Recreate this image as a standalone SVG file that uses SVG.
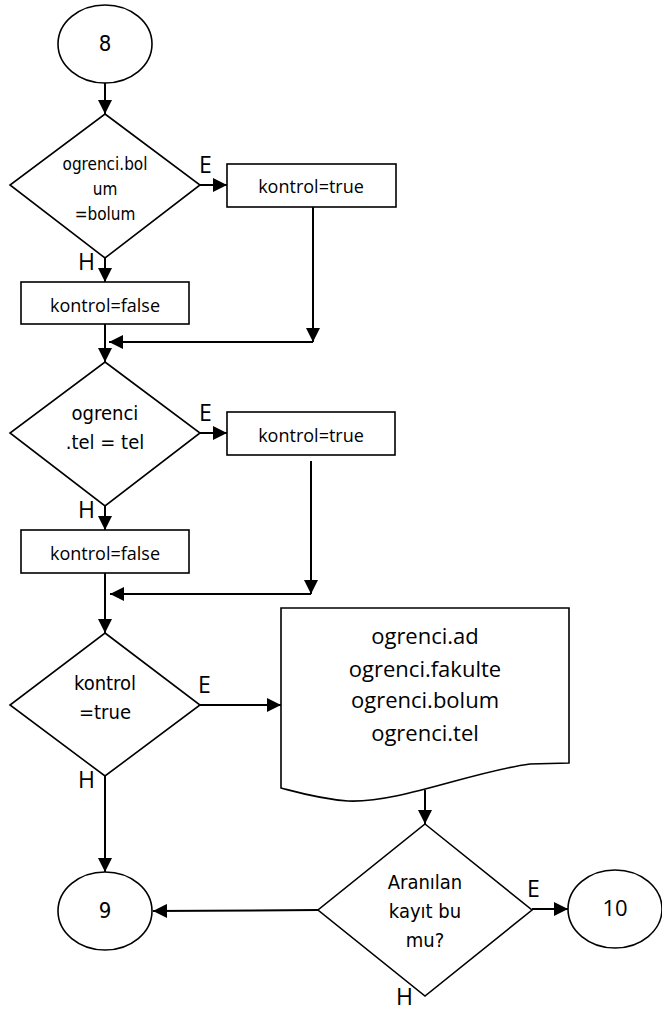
<svg xmlns="http://www.w3.org/2000/svg" width="662" height="1012" viewBox="0 0 662 1012">
<style>
  .shape { fill: #ffffff; stroke: #000000; stroke-width: 1.6; }
  .conn { fill: none; stroke: #000000; stroke-width: 2; }
  .dt { font-family: "DejaVu Sans Condensed", "DejaVu Sans", sans-serif; font-stretch: condensed; fill: #000; text-anchor: middle; }
  .bt { font-family: "Open Sans", "Liberation Sans", sans-serif; fill: #000; text-anchor: middle; }
  .lbl { font-family: "Open Sans", "Liberation Sans", sans-serif; font-size: 23px; fill: #000; }
</style>
<defs>
  <marker id="arr" markerUnits="userSpaceOnUse" markerWidth="14" markerHeight="14" refX="14" refY="7" orient="auto">
    <path d="M0,0 L14,7 L0,14 Z" fill="#000"/>
  </marker>
</defs>

<g id="connectors">
  <line class="conn" x1="105" y1="83" x2="105" y2="114" marker-end="url(#arr)"/>
  <line class="conn" x1="200" y1="185" x2="227" y2="185" marker-end="url(#arr)"/>
  <line class="conn" x1="105" y1="258" x2="105" y2="282" marker-end="url(#arr)"/>
  <line class="conn" x1="313" y1="207" x2="313" y2="342" marker-end="url(#arr)"/>
  <line class="conn" x1="313" y1="342" x2="109" y2="342" marker-end="url(#arr)"/>
  <line class="conn" x1="105" y1="324" x2="105" y2="362" marker-end="url(#arr)"/>
  <line class="conn" x1="200" y1="433" x2="227" y2="433" marker-end="url(#arr)"/>
  <line class="conn" x1="105" y1="506" x2="105" y2="530" marker-end="url(#arr)"/>
  <line class="conn" x1="311" y1="461" x2="311" y2="594" marker-end="url(#arr)"/>
  <line class="conn" x1="311" y1="594" x2="110" y2="594" marker-end="url(#arr)"/>
  <line class="conn" x1="105" y1="573" x2="105" y2="633" marker-end="url(#arr)"/>
  <line class="conn" x1="200" y1="705" x2="281" y2="705" marker-end="url(#arr)"/>
  <line class="conn" x1="105" y1="776" x2="105" y2="872" marker-end="url(#arr)"/>
  <line class="conn" x1="425" y1="790" x2="425" y2="824" marker-end="url(#arr)"/>
  <line class="conn" x1="318" y1="910" x2="153" y2="911" marker-end="url(#arr)"/>
  <line class="conn" x1="532" y1="909" x2="568" y2="909" marker-end="url(#arr)"/>
</g>

<g id="labels">
  <text class="lbl" x="199" y="173">E</text>
  <text class="lbl" x="78" y="270">H</text>
  <text class="lbl" x="199" y="421">E</text>
  <text class="lbl" x="78" y="518">H</text>
  <text class="lbl" x="198" y="693">E</text>
  <text class="lbl" x="78" y="788">H</text>
  <text class="lbl" x="527" y="897">E</text>
  <text class="lbl" x="396" y="1005">H</text>
</g>

<g id="n8">
  <ellipse class="shape" cx="105" cy="44" rx="47" ry="39"/>
  <text class="dt" x="105" y="51" font-size="22">8</text>
</g>

<g id="d1">
  <polygon class="shape" points="105,114 200,185 105,258 10,185"/>
  <text class="dt" font-size="17"><tspan x="105" y="170">ogrenci.bol</tspan><tspan x="105" y="195">um</tspan><tspan x="105" y="220">=bolum</tspan></text>
</g>

<g id="b1true">
  <rect class="shape" x="227" y="164" width="169" height="43"/>
  <text class="bt" x="311" y="193" font-size="18">kontrol=true</text>
</g>

<g id="b1false">
  <rect class="shape" x="21" y="282" width="168" height="42"/>
  <text class="bt" x="105" y="312" font-size="18">kontrol=false</text>
</g>

<g id="d2">
  <polygon class="shape" points="105,362 200,433 105,506 10,433"/>
  <text class="dt" font-size="20"><tspan x="105" y="420">ogrenci</tspan><tspan x="105" y="449">.tel = tel</tspan></text>
</g>

<g id="b2true">
  <rect class="shape" x="227" y="412" width="168" height="43"/>
  <text class="bt" x="311" y="442" font-size="18">kontrol=true</text>
</g>

<g id="b2false">
  <rect class="shape" x="21" y="530" width="168" height="43"/>
  <text class="bt" x="105" y="560" font-size="18">kontrol=false</text>
</g>

<g id="d3">
  <polygon class="shape" points="105,633 200,705 105,776 10,705"/>
  <text class="dt" font-size="20"><tspan x="105" y="690">kontrol</tspan><tspan x="105" y="719">=true</tspan></text>
</g>

<g id="doc">
  <path class="shape" d="M281,608 H569 V763 L530,764 C470,772 400,803 348,801 C320,799 300,793 281,788 Z"/>
  <text class="bt" font-size="22"><tspan x="425" y="644">ogrenci.ad</tspan><tspan x="425" y="677">ogrenci.fakulte</tspan><tspan x="425" y="708">ogrenci.bolum</tspan><tspan x="425" y="741">ogrenci.tel</tspan></text>
</g>

<g id="d4">
  <polygon class="shape" points="425,824 532,910 425,996 318,910"/>
  <text class="dt" font-size="20"><tspan x="425" y="889">Aranılan</tspan><tspan x="425" y="918">kayıt bu</tspan><tspan x="425" y="947">mu?</tspan></text>
</g>

<g id="n9">
  <ellipse class="shape" cx="105" cy="911" rx="47" ry="39"/>
  <text class="dt" x="105" y="918" font-size="22">9</text>
</g>

<g id="n10">
  <ellipse class="shape" cx="615" cy="909" rx="47" ry="39"/>
  <text class="bt" x="615" y="916" font-size="22">10</text>
</g>
</svg>
